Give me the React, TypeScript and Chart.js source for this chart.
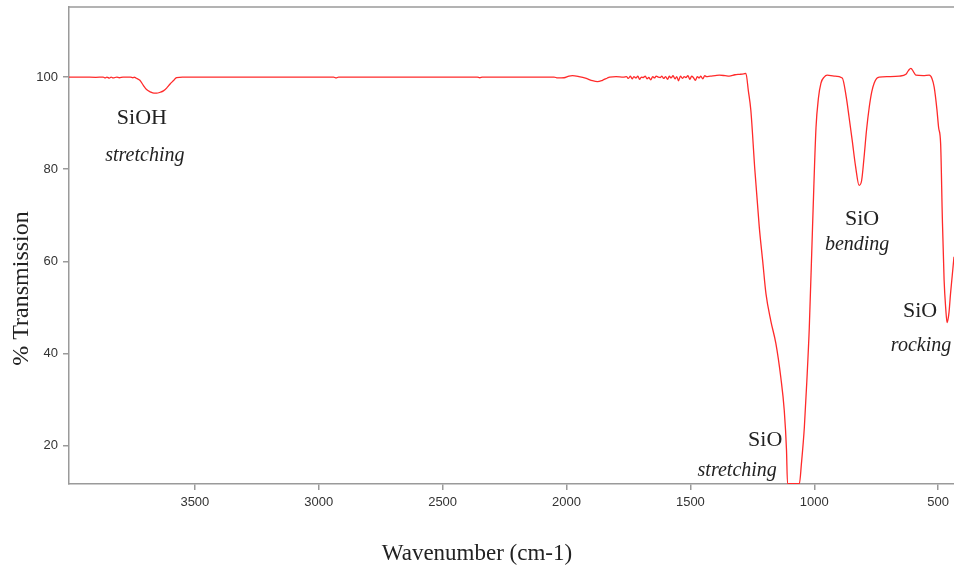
import React, { useEffect, useRef } from "react";
import { Chart, registerables } from "chart.js";

Chart.register(...registerables);

// Wavenumber (cm-1), descending
const WAVENUMBER: number[] = [
  4008, 3950, 3900, 3870, 3862, 3855, 3845, 3838, 3830, 3815, 3805, 3790, 3760, 3750, 3745, 3738,
  3722, 3708, 3695, 3680, 3665, 3654, 3640, 3627, 3614, 3600, 3585, 3574, 3550,
  3400, 3200, 3000, 2940, 2930, 2920, 2700, 2500, 2360, 2350, 2340, 2200, 2100, 2050,
  2036, 2010, 1990, 1976, 1950, 1920, 1895, 1875, 1855, 1835, 1826, 1800, 1770,
  1758, 1750, 1742, 1735, 1728, 1720, 1712, 1705, 1698, 1690, 1682, 1675, 1668, 1660, 1652, 1645,
  1638, 1630, 1622, 1615, 1608, 1600, 1592, 1585, 1578, 1570, 1562, 1555, 1548, 1540, 1532, 1525,
  1518, 1510, 1502, 1495, 1488, 1480, 1472, 1465, 1458, 1450, 1442, 1435,
  1420, 1400, 1383, 1360, 1343, 1320, 1300, 1285, 1276,
  1266, 1256, 1240, 1222, 1208, 1195, 1175, 1155, 1135, 1121, 1112, 1108, 1080, 1060, 1052, 1040,
  1030, 1020, 1007, 993, 983, 973, 960, 948, 920, 887,
  871, 860, 847, 833, 819, 809, 799, 789, 778, 768, 758, 748, 738, 700, 657, 630, 620, 610, 600, 590,
  560, 536, 525, 516, 505, 498, 490, 483, 476, 469, 464, 460, 456, 450, 443, 436,
];

// % Transmission
const TRANSMISSION: number[] = [
  100, 100, 99.95, 100, 99.8, 100, 99.75, 100, 99.8, 100, 99.85, 100, 100, 99.85, 100, 99.8,
  99.3, 98.2, 97.3, 96.8, 96.5, 96.5, 96.7, 97.0, 97.6, 98.5, 99.3, 99.9, 100,
  100, 100, 100, 100, 99.8, 100, 100, 100, 100, 99.85, 100, 100, 100, 100,
  99.8, 99.85, 100.2, 100.3, 100.1, 99.7, 99.2, 99.0, 99.3, 99.8, 100, 100.1, 100,
  100.1, 99.7, 100.2, 99.6, 100.1, 99.8, 100.2, 99.5, 100.0, 99.9, 100.2, 99.6, 99.9, 99.4, 100.1, 99.8,
  100.2, 100.0, 99.9, 100.2, 99.7, 100.1, 99.5, 100.2, 99.8, 100.3, 99.6, 100.1, 99.2, 100.2, 99.7, 100.1,
  99.9, 100.3, 99.5, 100.2, 99.9, 99.3, 100.1, 99.8, 100.2, 99.6, 100.3, 100.1,
  100.2, 100.3, 100.4, 100.3, 100.2, 100.5, 100.6, 100.7, 100.8,
  97, 92.8, 80, 67.5, 60, 53, 47, 42.2, 34.8, 27.6, 19, 11.8, 11.8, 11.8, 16, 24,
  34, 45.7, 67.4, 89, 95.5, 98.7, 100, 100.4, 100.2, 99.8,
  95.7, 91.5, 86.3, 80.5, 76.5, 77.5, 82.6, 88.5, 93.5, 96.8, 98.7, 99.7, 100, 100.1, 100.2, 100.6, 101.4, 101.9, 101.2, 100.4,
  100.3, 100.4, 99.7, 97.8, 93, 89, 85.6, 69.3, 56, 49.5, 46.7, 47.5, 49, 53, 57, 61,
];

const X_TICKS: number[] = [500, 1000, 1500, 2000, 2500, 3000, 3500];
const Y_TICKS: number[] = [20, 40, 60, 80, 100];
const X_MIN = 436;
const X_MAX = 4008;
const Y_MIN = 11.7;
const Y_MAX = 115.2;

const X_TITLE = "Wavenumber (cm-1)";
const Y_TITLE = "% Transmission";

// Peak annotations: text, anchor wavenumber, anchor transmission, italic
const ANNOT_TEXT: string[] = ["SiOH", "stretching", "SiO", "bending", "SiO", "rocking", "SiO", "stretching"];
const ANNOT_WN: number[] = [3714, 3702, 807, 827, 573, 569, 1198, 1311];
const ANNOT_T: number[] = [91.1, 83.0, 69.1, 63.7, 49.1, 41.7, 21.3, 14.6];
const ANNOT_ITALIC: boolean[] = [false, true, false, true, false, true, false, true];

const AXIS_COLOR = "#9a9a9a";
const TEXT_COLOR = "#222222";
const LINE_COLOR = "#ff2a2a";

export default function App() {
  const ref = useRef<HTMLCanvasElement | null>(null);

  useEffect(() => {
    if (!ref.current) return;
    const points = WAVENUMBER.map((x, i) => ({ x, y: TRANSMISSION[i] }));

    const decorPlugin = {
      id: "decor",
      afterDraw(chart: any) {
        const { ctx, chartArea, scales } = chart;
        ctx.save();
        // top frame line
        ctx.strokeStyle = AXIS_COLOR;
        ctx.lineWidth = 1.5;
        ctx.beginPath();
        ctx.moveTo(chartArea.left, chartArea.top);
        ctx.lineTo(chartArea.right, chartArea.top);
        ctx.stroke();

        // annotations
        ctx.fillStyle = TEXT_COLOR;
        ctx.textAlign = "center";
        ctx.textBaseline = "middle";
        ANNOT_TEXT.forEach((t, i) => {
          ctx.font = ANNOT_ITALIC[i]
            ? "italic 20px 'Liberation Serif', 'DejaVu Serif', serif"
            : "22px 'Liberation Serif', 'DejaVu Serif', serif";
          const px = scales.x.getPixelForValue(ANNOT_WN[i]);
          const py = scales.y.getPixelForValue(ANNOT_T[i]);
          ctx.fillText(t, px, py);
        });

        // axis titles
        ctx.font = "23px 'Liberation Serif', 'DejaVu Serif', serif";
        ctx.fillText(X_TITLE, chart.width / 2, chart.height - 16);
        ctx.font = "24px 'Liberation Serif', 'DejaVu Serif', serif";
        ctx.translate(22, (chartArea.top + chart.height) / 2);
        ctx.rotate(-Math.PI / 2);
        ctx.fillText(Y_TITLE, 0, 0);
        ctx.restore();
      },
    };

    const chart = new Chart(ref.current, {
      type: "line",
      data: {
        datasets: [
          {
            data: points,
            borderColor: LINE_COLOR,
            borderWidth: 1.3,
            pointRadius: 0,
            fill: false,
            cubicInterpolationMode: "monotone",
          },
        ],
      },
      options: {
        animation: false,
        responsive: false,
        layout: { padding: { top: 7, left: 0, right: 0, bottom: 0 } },
        plugins: { legend: { display: false }, tooltip: { enabled: false } },
        scales: {
          x: {
            type: "linear",
            reverse: true,
            min: X_MIN,
            max: X_MAX,
            afterBuildTicks: (s: any) => {
              s.ticks = X_TICKS.map((v) => ({ value: v }));
            },
            afterFit: (s: any) => {
              s.height = 86;
              s.paddingLeft = 0;
              s.paddingRight = 0;
            },
            grid: { display: true, drawOnChartArea: false, drawTicks: true, tickLength: 6, color: AXIS_COLOR, lineWidth: 1.5 },
            border: { display: true, color: AXIS_COLOR, width: 1.5 },
            ticks: {
              color: "#333333",
              padding: 5,
              maxRotation: 0,
              autoSkip: false,
              font: { family: "'Liberation Sans', Arial, sans-serif", size: 13 },
              callback: (v: any) => String(v),
            },
          },
          y: {
            type: "linear",
            min: Y_MIN,
            max: Y_MAX,
            afterBuildTicks: (s: any) => {
              s.ticks = Y_TICKS.map((v) => ({ value: v }));
            },
            afterFit: (s: any) => {
              s.width = 69;
              s.paddingTop = 0;
              s.paddingBottom = 0;
            },
            grid: { display: true, drawOnChartArea: false, drawTicks: true, tickLength: 6, color: AXIS_COLOR, lineWidth: 1.5 },
            border: { display: true, color: AXIS_COLOR, width: 1.5 },
            ticks: {
              color: "#333333",
              padding: 5,
              autoSkip: false,
              font: { family: "'Liberation Sans', Arial, sans-serif", size: 13 },
              callback: (v: any) => String(v),
            },
          },
        },
      },
      plugins: [decorPlugin],
    } as any);

    return () => chart.destroy();
  }, []);

  return (
    <div style={{ position: "absolute", left: 0, top: 0, width: 954, height: 570, background: "#ffffff" }}>
      <canvas ref={ref} width={954} height={570} style={{ display: "block" }} />
    </div>
  );
}
